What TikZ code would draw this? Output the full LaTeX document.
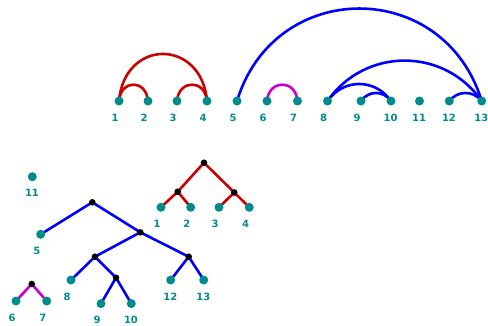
\documentclass[tikz,border=0pt]{standalone}
\usepackage{fontspec}
\setsansfont{DejaVu Sans}
\usetikzlibrary{backgrounds}
\definecolor{tealc}{RGB}{0,140,140}
\definecolor{redc}{RGB}{204,0,0}
\definecolor{bluec}{RGB}{0,0,255}
\definecolor{magc}{RGB}{204,0,204}
\tikzset{
  leafdot/.style={circle,fill=tealc,inner sep=0pt,minimum size=9pt},
  innerdot/.style={circle,fill=black,inner sep=0pt,minimum size=6.6pt},
  lab/.style={anchor=west,inner sep=0pt,text=tealc,font=\sffamily\bfseries\fontsize{10}{12}\selectfont},
  link/.style={line width=2.6pt},
}
\newcommand\leafnode[3]{%
  \node[leafdot] (#1) at (#2) {};
  \node[lab,xshift=-7.5pt,yshift=-16.6pt] (#1l) at (#2) {#3};}
\begin{document}
\begin{tikzpicture}[x=1pt,y=-1pt]
\useasboundingbox (0,0) rectangle (488,325);
% ---- top row ----
\leafnode{t1}{119,101}{1}
\leafnode{t2}{148,101}{2}
\leafnode{t3}{177,101}{3}
\leafnode{t4}{207,101}{4}
\leafnode{t5}{237,101}{5}
\leafnode{t6}{267,101}{6}
\leafnode{t7}{297.5,101}{7}
\leafnode{t8}{327.5,101}{8}
\leafnode{t9}{361,101}{9}
\leafnode{t10}{391,101}{10}
\leafnode{t11}{419.5,101}{11}
\leafnode{t12}{449.3,101}{12}
\leafnode{t13}{481.7,101}{13}
% ---- bottom trees ----
\leafnode{b11}{32.3,176.7}{11}
% red tree
\node[innerdot] (rr0) at (204,162.7) {};
\node[innerdot] (rrl) at (177.7,191.7) {};
\node[innerdot] (rrr) at (234.3,192.5) {};
\leafnode{b1}{161,207.3}{1}
\leafnode{b2}{190.7,207.3}{2}
\leafnode{b3}{219,207.3}{3}
\leafnode{b4}{249.3,207.3}{4}
% blue tree
\node[innerdot] (br0) at (92.3,202.3) {};
\node[innerdot] (bA) at (140.3,232.3) {};
\node[innerdot] (bB) at (95,256.7) {};
\node[innerdot] (bC) at (188.7,256.7) {};
\node[innerdot] (bD) at (116,277.7) {};
\leafnode{b5}{40.7,234.3}{5}
\leafnode{b8}{71,280}{8}
\leafnode{b9}{101,303.6}{9}
\leafnode{b10}{131.3,303.6}{10}
\leafnode{b12}{170.7,280}{12}
\leafnode{b13}{203.7,280}{13}
% magenta tree
\node[innerdot] (mr0) at (31.7,284) {};
\leafnode{b6}{16,301}{6}
\leafnode{b7}{46.7,301}{7}
\begin{scope}[on background layer]
% arcs
\draw[link,redc] (t1.center) .. controls +(1.9,-21.9) and +(-1.9,-21.9) .. (t2.center);
\draw[link,redc] (t3.center) .. controls +(1.9,-21.9) and +(-1.9,-21.9) .. (t4.center);
\draw[link,redc] (t1.center) .. controls +(5.5,-62.7) and +(-5.5,-62.7) .. (t4.center);
\draw[link,magc] (t6.center) .. controls +(1.9,-21.9) and +(-1.9,-21.9) .. (t7.center);
\draw[link,bluec] (t5.center) .. controls +(37.7,-123.3) and +(-37.7,-123.3) .. (t13.center);
\draw[link,bluec] (t8.center) .. controls +(37.7,-53.9) and +(-37.7,-53.9) .. (t13.center);
\draw[link,bluec] (t8.center) .. controls +(15.9,-22.7) and +(-15.9,-22.7) .. (t10.center);
\draw[link,bluec] (t9.center) .. controls +(7.5,-10.7) and +(-7.5,-10.7) .. (t10.center);
\draw[link,bluec] (t12.center) .. controls +(8.3,-10.7) and +(-8.3,-10.7) .. (t13.center);
% tree edges
\draw[link,redc] (rr0.center) -- (rrl.center);
\draw[link,redc] (rr0.center) -- (rrr.center);
\draw[link,redc] (rrl.center) -- (b1.center);
\draw[link,redc] (rrl.center) -- (b2.center);
\draw[link,redc] (rrr.center) -- (b3.center);
\draw[link,redc] (rrr.center) -- (b4.center);
\draw[link,bluec] (br0.center) -- (b5.center);
\draw[link,bluec] (br0.center) -- (bA.center);
\draw[link,bluec] (bA.center) -- (bB.center);
\draw[link,bluec] (bA.center) -- (bC.center);
\draw[link,bluec] (bB.center) -- (b8.center);
\draw[link,bluec] (bB.center) -- (bD.center);
\draw[link,bluec] (bD.center) -- (b9.center);
\draw[link,bluec] (bD.center) -- (b10.center);
\draw[link,bluec] (bC.center) -- (b12.center);
\draw[link,bluec] (bC.center) -- (b13.center);
\draw[link,magc] (mr0.center) -- (b6.center);
\draw[link,magc] (mr0.center) -- (b7.center);
\end{scope}
\end{tikzpicture}
\end{document}
